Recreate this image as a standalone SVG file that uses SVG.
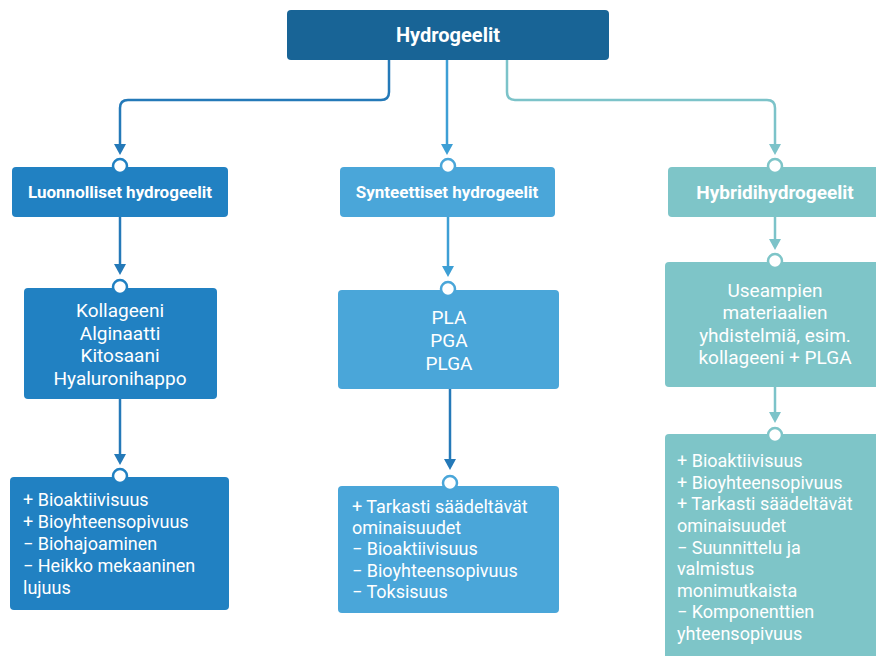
<svg xmlns="http://www.w3.org/2000/svg" width="876" height="656" viewBox="0 0 876 656">
<defs>
<style>
.t{font-family:Roboto,"Liberation Sans",sans-serif;fill:#fff}
.h{font-weight:bold;font-size:17px;text-anchor:middle}
.b{font-size:18px}
.c{text-anchor:middle;font-size:19px}
.ln{fill:none;stroke-width:2.5}
.dot{fill:#fff;stroke-width:2.5}
</style>
</defs>
<rect width="876" height="656" fill="#fff"/>
<g id="connectors">
<path class="ln" stroke="#2479b8" d="M389,60 V92 Q389,100 381,100 H128 Q120,100 120,108 V146"/>
<polygon points="114,144 126,144 120,155" fill="#2479b8"/>
<path class="ln" stroke="#3d9fd5" d="M447,60 V146"/>
<polygon points="441,144 453,144 447,155" fill="#3d9fd5"/>
<path class="ln" stroke="#7cc3c9" d="M507,60 V92 Q507,100 515,100 H767 Q775,100 775,108 V146"/>
<polygon points="769,144 781,144 775,155" fill="#7cc3c9"/>
<path class="ln" stroke="#2479b8" d="M120,217 V266"/>
<polygon points="114,264 126,264 120,275" fill="#2479b8"/>
<path class="ln" stroke="#2479b8" d="M120,399 V456"/>
<polygon points="114,454 126,454 120,465" fill="#2479b8"/>
<path class="ln" stroke="#3d9fd5" d="M448,217 V267"/>
<polygon points="442,266 454,266 448,277" fill="#3d9fd5"/>
<path class="ln" stroke="#2479b8" d="M450,389 V460"/>
<polygon points="444,459 456,459 450,470" fill="#2479b8"/>
<path class="ln" stroke="#7cc3c9" d="M775,217 V240"/>
<polygon points="769,239 781,239 775,250" fill="#7cc3c9"/>
<path class="ln" stroke="#7cc3c9" d="M775,387 V413"/>
<polygon points="769,412 781,412 775,423" fill="#7cc3c9"/>
</g>
<g id="n-root">
<rect x="287" y="10" width="322" height="50" rx="4" fill="#186496"/>
<text class="t h" x="448" y="42" style="font-size:20px">Hydrogeelit</text>
</g>
<g id="n-luonnolliset">
<rect x="12" y="167" width="216" height="50" rx="4" fill="#2181c2"/>
<circle class="dot" cx="120" cy="166" r="7" stroke="#2181c2"/>
<text class="t h" x="120" y="198">Luonnolliset hydrogeelit</text>
</g>
<g id="n-synteettiset">
<rect x="340" y="167" width="215" height="50" rx="4" fill="#4aa6d9"/>
<circle class="dot" cx="448" cy="166" r="7" stroke="#4aa6d9"/>
<text class="t h" x="447" y="198">Synteettiset hydrogeelit</text>
</g>
<g id="n-hybridi">
<rect x="668" y="167" width="220" height="50" rx="4" fill="#7ec5c8"/>
<circle class="dot" cx="775" cy="166" r="7" stroke="#7ec5c8"/>
<text class="t h" x="775" y="199" style="font-size:19px">Hybridihydrogeelit</text>
</g>
<g id="n-luonn-materiaalit">
<rect x="24" y="288" width="193" height="111" rx="4" fill="#2181c2"/>
<circle class="dot" cx="120" cy="287" r="7" stroke="#2181c2"/>
<text class="t b c" x="120" y="317">Kollageeni</text>
<text class="t b c" x="120" y="340">Alginaatti</text>
<text class="t b c" x="120" y="362">Kitosaani</text>
<text class="t b c" x="120" y="385">Hyaluronihappo</text>
</g>
<g id="n-synt-materiaalit">
<rect x="338" y="290" width="221" height="99" rx="4" fill="#4aa6d9"/>
<circle class="dot" cx="448" cy="289" r="7" stroke="#4aa6d9"/>
<text class="t b c" x="449" y="324">PLA</text>
<text class="t b c" x="449" y="347">PGA</text>
<text class="t b c" x="449" y="370">PLGA</text>
</g>
<g id="n-hybr-materiaalit">
<rect x="665" y="262" width="225" height="125" rx="4" fill="#7ec5c8"/>
<circle class="dot" cx="775" cy="261" r="7" stroke="#7ec5c8"/>
<text class="t b c" x="775" y="297">Useampien</text>
<text class="t b c" x="775" y="319">materiaalien</text>
<text class="t b c" x="775" y="342">yhdistelmiä, esim.</text>
<text class="t b c" x="775" y="364">kollageeni + PLGA</text>
</g>
<g id="n-luonn-ominaisuudet">
<rect x="10" y="477" width="219" height="133" rx="4" fill="#2181c2"/>
<circle class="dot" cx="120" cy="476" r="7" stroke="#2181c2"/>
<text class="t b" x="23" y="506">+ Bioaktiivisuus</text>
<text class="t b" x="23" y="528">+ Bioyhteensopivuus</text>
<text class="t b" x="23" y="550">− Biohajoaminen</text>
<text class="t b" x="23" y="572">− Heikko mekaaninen</text>
<text class="t b" x="23" y="594">lujuus</text>
</g>
<g id="n-synt-ominaisuudet">
<rect x="338" y="486" width="221" height="127" rx="4" fill="#4aa6d9"/>
<circle class="dot" cx="450" cy="483" r="7" stroke="#4aa6d9"/>
<text class="t b" x="352" y="513">+ Tarkasti säädeltävät</text>
<text class="t b" x="352" y="534">ominaisuudet</text>
<text class="t b" x="352" y="555">− Bioaktiivisuus</text>
<text class="t b" x="352" y="577">− Bioyhteensopivuus</text>
<text class="t b" x="352" y="598">− Toksisuus</text>
</g>
<g id="n-hybr-ominaisuudet">
<rect x="665" y="434" width="225" height="240" rx="4" fill="#7ec5c8"/>
<circle class="dot" cx="775" cy="435" r="7" stroke="#7ec5c8"/>
<text class="t b" x="677" y="467">+ Bioaktiivisuus</text>
<text class="t b" x="677" y="489">+ Bioyhteensopivuus</text>
<text class="t b" x="677" y="510">+ Tarkasti säädeltävät</text>
<text class="t b" x="677" y="532">ominaisuudet</text>
<text class="t b" x="677" y="554">− Suunnittelu ja</text>
<text class="t b" x="677" y="575">valmistus</text>
<text class="t b" x="677" y="597">monimutkaista</text>
<text class="t b" x="677" y="618">− Komponenttien</text>
<text class="t b" x="677" y="640">yhteensopivuus</text>
</g>
</svg>
